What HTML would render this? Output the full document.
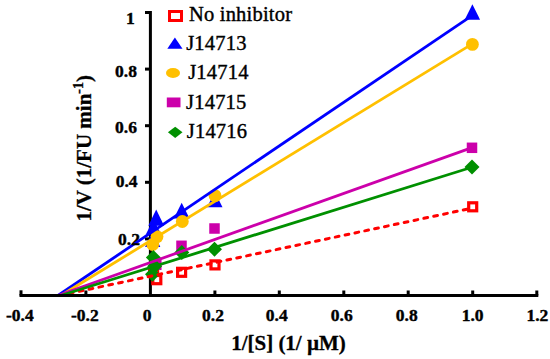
<!DOCTYPE html>
<html><head><meta charset="utf-8">
<style>
html,body{margin:0;padding:0;background:#fff;width:550px;height:359px;overflow:hidden}
svg{display:block}
text{font-family:"Liberation Serif",serif}
.tl{font-weight:bold;font-size:17.5px;stroke:#000;stroke-width:0.4px}
.tt{font-weight:bold;font-size:21px;stroke:#000;stroke-width:0.3px}
.lg{font-size:20.5px;letter-spacing:0.2px;stroke:#000;stroke-width:0.4px}
</style></head><body>
<svg width="550" height="359" viewBox="0 0 550 359">
<rect width="550" height="359" fill="#fff"/>

<!-- y axis -->
<g stroke="#000" stroke-width="3" fill="none">
<line x1="150.4" y1="11" x2="150.4" y2="297"/>
<line x1="145" y1="12.5" x2="150.4" y2="12.5"/>
<line x1="145" y1="69.1" x2="150.4" y2="69.1"/>
<line x1="145" y1="125.7" x2="150.4" y2="125.7"/>
<line x1="145" y1="182.3" x2="150.4" y2="182.3"/>
<line x1="145" y1="238.9" x2="150.4" y2="238.9"/>
</g>

<!-- markers -->
<g fill="none" stroke="#ff0000" stroke-width="3.2">
<rect x="149.60" y="267.50" width="8" height="8"/>
<rect x="152.80" y="275.30" width="8" height="8.4"/>
<rect x="177.60" y="268.30" width="8" height="8"/>
<rect x="211.00" y="260.90" width="8" height="8"/>
<rect x="468.70" y="202.80" width="8" height="8"/>
</g>
<g fill="#0000ff">
<path d="M152.7 231.5 L160.30 247.0 L145.10 247.0 Z"/>
<path d="M153.5 219 L161.20 234.5 L145.80 234.5 Z"/>
<path d="M156.2 209.5 L164.10 225.7 L148.30 225.7 Z"/>
<path d="M181.7 202.7 L189.60 218.5 L173.80 218.5 Z"/>
<path d="M214.8 191.8 L222.50 207.3 L207.10 207.3 Z"/>
<path d="M472.4 4.2 L480.10 19.7 L464.70 19.7 Z"/>
</g>
<g fill="#ffc000">
<circle cx="152.7" cy="244.5" r="6.4"/>
<circle cx="157" cy="236.6" r="6.4"/>
<circle cx="182.3" cy="221.5" r="6.4"/>
<circle cx="215" cy="195.6" r="6.4"/>
<circle cx="472.4" cy="44.4" r="6.4"/>
</g>
<g fill="#cc00aa">
<rect x="151.05" y="259.55" width="10.5" height="10.5"/>
<rect x="176.25" y="240.55" width="10.5" height="10.5"/>
<rect x="209.25" y="223.25" width="10.5" height="10.5"/>
<rect x="466.75" y="142.55" width="10.5" height="10.5"/>
</g>
<g fill="#009000">
<path d="M153.4 250.0 L160.9 257.5 L153.4 265.0 L145.9 257.5 Z"/>
<path d="M152.5 266.8 L160.0 274.3 L152.5 281.8 L145.0 274.3 Z"/>
<path d="M154.6 258.8 L162.1 266.3 L154.6 273.8 L147.1 266.3 Z"/>
<path d="M181.8 245.0 L189.3 252.5 L181.8 260.0 L174.3 252.5 Z"/>
<path d="M214.5 241.7 L222.0 249.2 L214.5 256.7 L207.0 249.2 Z"/>
<path d="M472 159.6 L479.5 167.1 L472 174.6 L464.5 167.1 Z"/>
</g>
<!-- trend lines -->
<g fill="none" stroke-width="2.8">
<line x1="59.4" y1="295.5" x2="472.7" y2="208" stroke="#ff0000" stroke-width="3" stroke-dasharray="3.8 6.266" stroke-dashoffset="9.946" stroke-linecap="round"/>
<line x1="58" y1="295.5" x2="472.7" y2="15.2" stroke="#0000ff"/>
<line x1="60.9" y1="295.5" x2="472.7" y2="43.6" stroke="#ffc000"/>
<line x1="58" y1="295.5" x2="472.7" y2="147.4" stroke="#cc00aa"/>
<line x1="60.7" y1="295.5" x2="472.7" y2="167" stroke="#009000"/>
</g>

<!-- x axis -->
<g stroke="#000" stroke-width="3" fill="none">
<line x1="19.5" y1="295.5" x2="538.3" y2="295.5"/>
<line x1="21" y1="290.3" x2="21" y2="295.5"/>
<line x1="85.9" y1="290.5" x2="85.9" y2="295.5"/>
<line x1="214.9" y1="290.5" x2="214.9" y2="295.5"/>
<line x1="279.3" y1="290.5" x2="279.3" y2="295.5"/>
<line x1="343.8" y1="290.5" x2="343.8" y2="295.5"/>
<line x1="408.2" y1="290.5" x2="408.2" y2="295.5"/>
<line x1="472.7" y1="290.5" x2="472.7" y2="295.5"/>
<line x1="536.8" y1="290.5" x2="536.8" y2="295.5"/>
</g>

<!-- y tick labels -->
<g class="tl" text-anchor="middle">
<text x="130.3" y="23.5">1</text>
<text x="126" y="76.5">0.8</text>
<text x="126" y="132.8">0.6</text>
<text x="126.6" y="187">0.4</text>
<text x="129" y="244.8">0.2</text>
</g>
<!-- x tick labels -->
<g class="tl" text-anchor="middle">
<text x="19.8" y="320.5">-0.4</text>
<text x="84.8" y="320.5">-0.2</text>
<text x="147" y="320.5">0</text>
<text x="213" y="320.5">0.2</text>
<text x="276.8" y="320.5">0.4</text>
<text x="341.7" y="320.5">0.6</text>
<text x="406.8" y="320.5">0.8</text>
<text x="472.6" y="320.5">1.0</text>
<text x="537.4" y="320.5">1.2</text>
</g>

<!-- axis titles -->
<text class="tt" x="288.5" y="350" text-anchor="middle">1/[S] (1/ µM)</text>
<text class="tt" transform="translate(90.7 148.3) rotate(-90)" text-anchor="middle">1/V (1/FU min<tspan font-size="14" dy="-8">-1</tspan><tspan dy="8">)</tspan></text>

<!-- legend -->
<rect x="169.5" y="11.5" width="12" height="9" fill="none" stroke="#ff0000" stroke-width="3"/>
<text class="lg" x="189" y="21">No inhibitor</text>
<path d="M174.9 37.5 L182.5 48.8 L167.3 48.8 Z" fill="#0000ff"/>
<text class="lg" x="186.2" y="49.5">J14713</text>
<ellipse cx="173" cy="73" rx="7" ry="5" fill="#ffc000"/>
<text class="lg" x="188.2" y="79">J14714</text>
<rect x="166.8" y="97.5" width="13.7" height="9.8" fill="#cc00aa"/>
<text class="lg" x="186.1" y="108.8">J14715</text>
<path d="M175.2 126.7 L182.5 132.3 L175.2 138 L167.9 132.3 Z" fill="#009000"/>
<text class="lg" x="186.8" y="138.2">J14716</text>
</svg>
</body></html>
